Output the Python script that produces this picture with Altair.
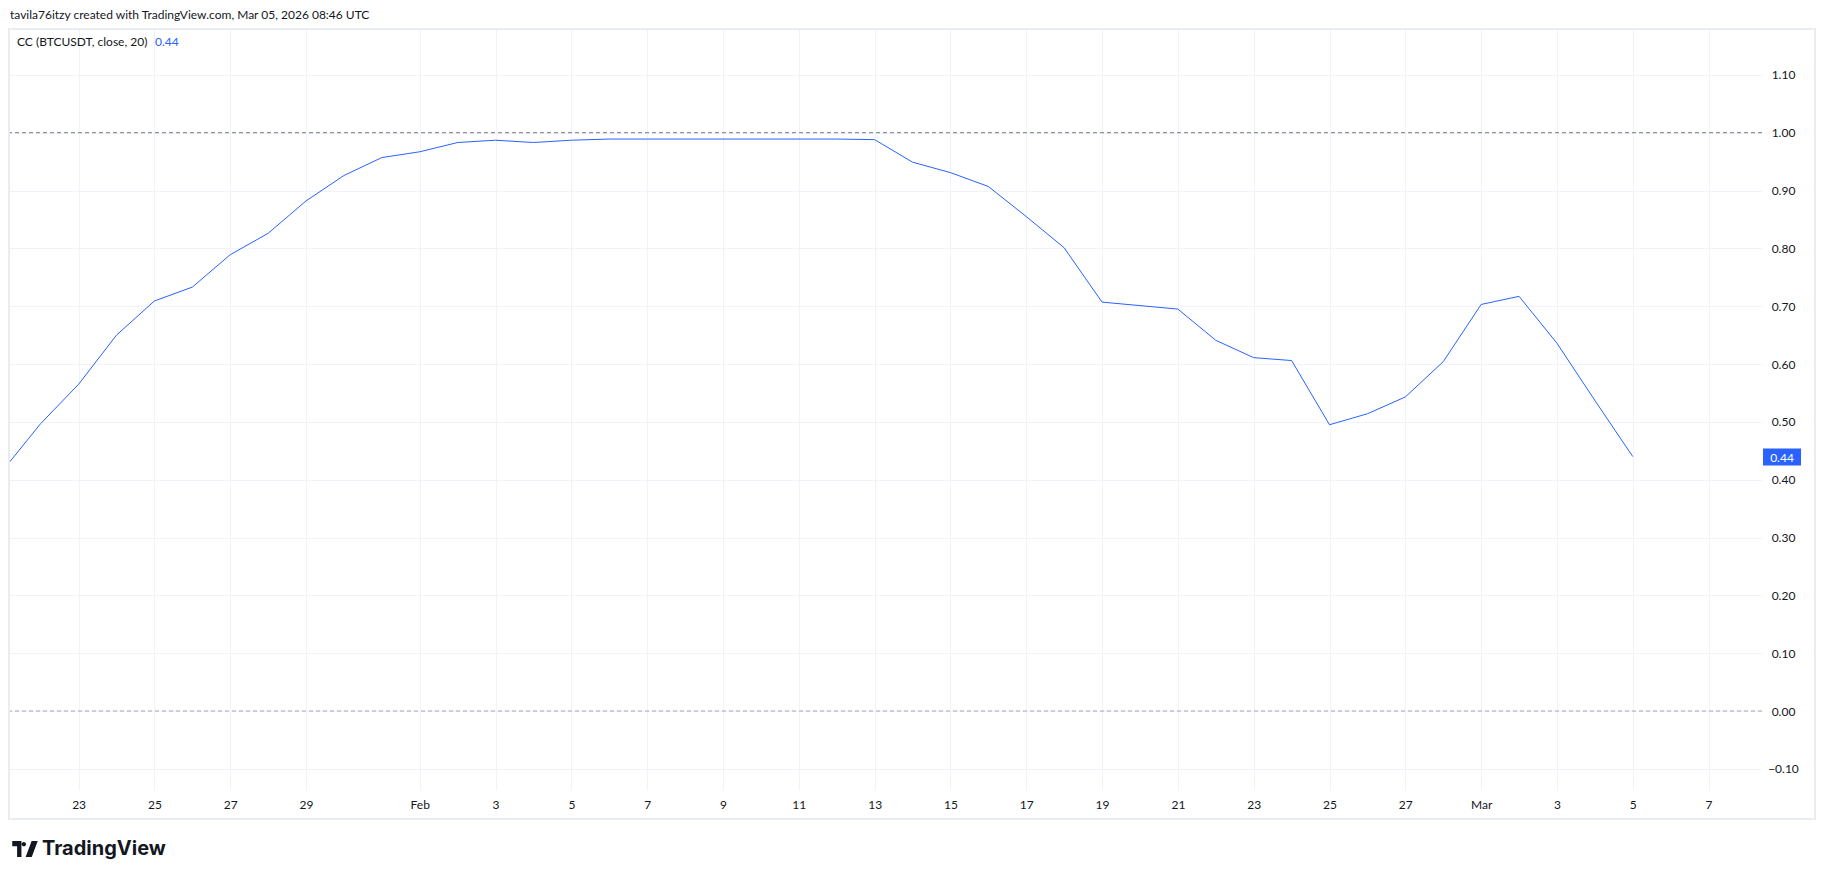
import altair as alt
import pandas as pd

# ---- data ----
dates = [
    "2026-01-21", "2026-01-22", "2026-01-23", "2026-01-24", "2026-01-25", "2026-01-26",
    "2026-01-27", "2026-01-28", "2026-01-29", "2026-01-30", "2026-01-31",
    "2026-02-01", "2026-02-02", "2026-02-03", "2026-02-04", "2026-02-05", "2026-02-06",
    "2026-02-07", "2026-02-08", "2026-02-09", "2026-02-10", "2026-02-11", "2026-02-12",
    "2026-02-13", "2026-02-14", "2026-02-15", "2026-02-16", "2026-02-17", "2026-02-18",
    "2026-02-19", "2026-02-20", "2026-02-21", "2026-02-22", "2026-02-23", "2026-02-24",
    "2026-02-25", "2026-02-26", "2026-02-27", "2026-02-28",
    "2026-03-01", "2026-03-02", "2026-03-03", "2026-03-04", "2026-03-05",
]
cc_values = [
    0.416, 0.497, 0.565, 0.650, 0.709, 0.733,
    0.789, 0.826, 0.882, 0.926, 0.957,
    0.967, 0.983, 0.987, 0.983, 0.987, 0.989,
    0.989, 0.989, 0.989, 0.989, 0.989, 0.989,
    0.988, 0.949, 0.931, 0.907, 0.855, 0.801,
    0.707, 0.701, 0.695, 0.641, 0.611, 0.606,
    0.495, 0.514, 0.543, 0.604,
    0.703, 0.717, 0.636, 0.537, 0.44,
]
hline_levels = [1.0, 0.0]
y_ticks = [-0.1, 0.0, 0.1, 0.2, 0.3, 0.4, 0.5, 0.6, 0.7, 0.8, 0.9, 1.0, 1.1]
x_tick_dates = [
    "2026-01-23", "2026-01-25", "2026-01-27", "2026-01-29", "2026-02-01",
    "2026-02-03", "2026-02-05", "2026-02-07", "2026-02-09", "2026-02-11",
    "2026-02-13", "2026-02-15", "2026-02-17", "2026-02-19", "2026-02-21",
    "2026-02-23", "2026-02-25", "2026-02-27", "2026-03-01", "2026-03-03",
    "2026-03-05", "2026-03-07",
]
header_text = "tavila76itzy created with TradingView.com, Mar 05, 2026 08:46 UTC"
legend_text = "CC (BTCUSDT, close, 20)"
brand_text = "TradingView"

# ---- styling ----
FONT = "Lato"
TEXT = "#131722"
GRID = "#F0F3FA"
BLUE = "#2962FF"
PLOT_W, PLOT_H = 1753, 761


def dt(s, h=0, m=0):
    y, mo, d = (int(p) for p in s.split("-"))
    return alt.DateTime(year=y, month=mo, date=d, hours=h, minutes=m, utc=True)


df = pd.DataFrame({"date": dates, "cc": cc_values})
last = df.tail(1)

x_scale = alt.Scale(type="utc", domain=[dt("2026-01-21", 3, 56), dt("2026-03-08", 9, 50)])
y_scale = alt.Scale(domain=[-0.1366, 1.1793], nice=False, zero=False)

x_axis = alt.Axis(
    values=[dt(s) for s in x_tick_dates],
    labelExpr="utcdate(datum.value) == 1 ? utcFormat(datum.value, '%b') : '' + utcdate(datum.value)",
    labelBaseline="middle", labelPadding=14, ticks=False, domain=False,
    grid=True, gridColor=GRID, gridWidth=1,
    labelFont=FONT, labelFontSize=12, labelColor=TEXT,
    labelOverlap=False, labelFlush=False, labelBound=False, title=None,
)
y_axis = alt.Axis(
    orient="right", values=y_ticks, format=".2f",
    labelAlign="center", labelBaseline="middle", labelPadding=21,
    ticks=False, domain=False, grid=True, gridColor=GRID, gridWidth=1,
    labelFont=FONT, labelFontSize=12, labelColor=TEXT,
    labelOverlap=False, labelFlush=False, labelBound=False, title=None,
)

Y = lambda f: alt.Y(f, type="quantitative", scale=y_scale, axis=y_axis)

line = alt.Chart(df).mark_line(color=BLUE, strokeWidth=1, clip=True).encode(
    x=alt.X("date:T", scale=x_scale, axis=x_axis),
    y=Y("cc"),
)

rule_one = alt.Chart(pd.DataFrame({"lvl": [hline_levels[0]]})).mark_rule(
    color="#787B86", strokeWidth=1, strokeDash=[4, 3]
).encode(y=Y("lvl"))
rule_zero = alt.Chart(pd.DataFrame({"lvl": [hline_levels[1]]})).mark_rule(
    color="#A3A6AF", strokeWidth=1, strokeDash=[4, 3]
).encode(y=Y("lvl"))

price_box = alt.Chart(last).mark_rect(color=BLUE, yOffset=-8, y2Offset=9).encode(
    x=alt.value(1754), x2=alt.value(1792), y=Y("cc"), y2="cc:Q"
)
price_txt = alt.Chart(last).mark_text(
    color="white", font=FONT, fontSize=12, align="center", baseline="middle", dy=1
).encode(x=alt.value(1773), y=Y("cc"), text=alt.Text("cc:Q", format=".2f"))

one = pd.DataFrame({"a": [0]})
border = alt.Chart(one).mark_rect(fillOpacity=0, stroke="#E9ECF2", strokeWidth=2).encode(
    x=alt.value(0), x2=alt.value(1806), y=alt.value(0), y2=alt.value(790)
)

header = alt.Chart(pd.DataFrame({"t": [header_text]})).mark_text(
    font=FONT, fontSize=12, color=TEXT, align="left", baseline="middle"
).encode(x=alt.value(1), y=alt.value(-14), text="t:N")

legend = alt.Chart(pd.DataFrame({"t": [legend_text]})).mark_text(
    font=FONT, fontSize=12, color=TEXT, align="left", baseline="middle"
).encode(x=alt.value(8), y=alt.value(13), text="t:N")

legend_val = alt.Chart(last).mark_text(
    font=FONT, fontSize=12, color=BLUE, align="left", baseline="middle"
).encode(x=alt.value(146), y=alt.value(13), text=alt.Text("cc:Q", format=".2f"))

logo_path = (
    "M-1,-0.62 H-0.28 V0.62 H-0.62 V-0.22 H-1 Z "
    "M-0.26,-0.38 a0.17,0.17 0 1,0 0.34,0 a0.17,0.17 0 1,0 -0.34,0 Z "
    "M0.05,0.62 L0.52,-0.62 H1 L0.53,0.62 Z"
)
logo = alt.Chart(one).mark_point(
    shape=logo_path, filled=True, size=650, color=TEXT, opacity=1, strokeWidth=0
).encode(x=alt.value(16), y=alt.value(820))

brand = alt.Chart(pd.DataFrame({"t": [brand_text]})).mark_text(
    font="Inter", fontSize=20, fontWeight="bold", color=TEXT, align="left", baseline="middle"
).encode(x=alt.value(33), y=alt.value(820), text="t:N")

chart = alt.layer(
    line, rule_one, rule_zero, price_box, price_txt,
    border, header, legend, legend_val, logo, brand,
).properties(
    width=PLOT_W, height=PLOT_H,
    padding={"left": 1, "top": 21, "right": 55, "bottom": 78},
    autosize=alt.AutoSizeParams(type="none"),
    background="white",
).configure_view(stroke=None)

chart.save("out.html", embed_options={"renderer": "svg", "actions": False})
